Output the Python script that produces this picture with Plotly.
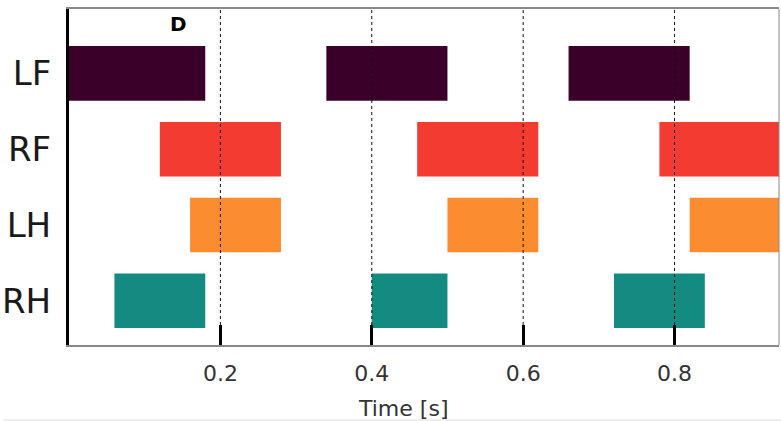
import plotly.graph_objects as go

limbs = ["LF", "RF", "LH", "RH"]
colors = {"LF": "#3b0029", "RF": "#f33b31", "LH": "#fb8c30", "RH": "#148b81"}
starts = {
    "LF": [0.00, 0.34, 0.66],
    "RF": [0.12, 0.46, 0.78],
    "LH": [0.16, 0.50, 0.82],
    "RH": [0.06, 0.40, 0.72],
}
ends = {
    "LF": [0.18, 0.50, 0.82],
    "RF": [0.28, 0.62, 0.96],
    "LH": [0.28, 0.62, 0.96],
    "RH": [0.18, 0.50, 0.84],
}
tick_vals = [0.2, 0.4, 0.6, 0.8]
tick_text = ["0.2", "0.4", "0.6", "0.8"]
x_range = [0.0, 0.938]

fig = go.Figure()
for limb in limbs:
    s = starts[limb]
    e = ends[limb]
    fig.add_trace(go.Bar(
        y=[limb] * len(s),
        x=[b - a for a, b in zip(s, e)],
        base=s,
        orientation="h",
        width=0.72,
        marker=dict(color=colors[limb], line=dict(width=0)),
        showlegend=False,
        hoverinfo="skip",
    ))

# dotted vertical lines at tick positions
for tv in tick_vals:
    fig.add_shape(type="line", xref="x", yref="paper", x0=tv, x1=tv,
                  y0=20 / 336, y1=1, layer="above",
                  line=dict(color="#111", width=1, dash="dot"))
# right border
fig.add_shape(type="line", xref="paper", yref="paper", x0=1, x1=1, y0=0, y1=1,
              line=dict(color="#888", width=1))
# faint bottom rule of the image
fig.add_shape(type="line", xref="paper", yref="paper", x0=-66 / 713, x1=1 + 2 / 713,
              y0=-(420 - 345) / 336, y1=-(420 - 345) / 336,
              line=dict(color="#ddd", width=1))

fig.add_annotation(text="<b>D</b>", xref="paper", yref="paper",
                   x=(176 - 66) / 713, y=1 - (24.5 - 9) / 336,
                   showarrow=False, xanchor="center", yanchor="middle",
                   font=dict(family="DejaVu Sans", size=20, color="#000"))
fig.add_annotation(text="Time [s]", xref="paper", yref="paper",
                   x=(401 - 66) / 713, y=-(408 - 345) / 336,
                   showarrow=False, xanchor="center", yanchor="middle",
                   font=dict(family="DejaVu Sans", size=22, color="#333"))

fig.update_layout(
    width=781, height=421,
    margin=dict(l=66, r=2, t=9, b=76),
    paper_bgcolor="white", plot_bgcolor="white",
    barmode="overlay",
    font=dict(family="DejaVu Sans"),
    xaxis=dict(range=x_range, tickvals=tick_vals, ticktext=tick_text,
               ticks="inside", ticklen=20, tickwidth=3, tickcolor="#000",
               showgrid=False, zeroline=False,
               showline=True, linecolor="#888", linewidth=1.5, mirror=True,
               ticklabelstandoff=8,
               tickfont=dict(family="DejaVu Sans", size=22, color="#333")),
    yaxis=dict(type="category", categoryorder="array",
               categoryarray=["RH", "LH", "RF", "LF"],
               range=[-0.585, 3.85],
               showgrid=False, zeroline=False, ticks="",
               showline=True, linecolor="#000", linewidth=3,
               ticklabelstandoff=8,
               tickfont=dict(family="DejaVu Sans", size=34, color="#1a1a1a")),
)

fig.write_html("out.html", config={"displayModeBar": False},
               post_script="document.body.style.margin='0';document.body.style.overflow='hidden';")
